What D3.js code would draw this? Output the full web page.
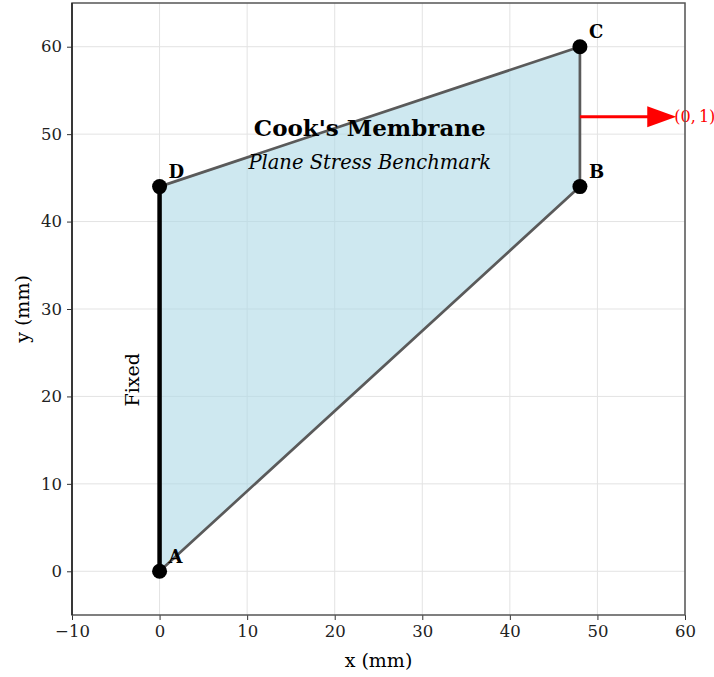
<!DOCTYPE html>
<html>
<head>
<meta charset="utf-8">
<script src="https://cdn.jsdelivr.net/npm/d3@7"></script>
<style>
  body { margin: 0; background: #fff; }
  svg { font-family: "DejaVu Serif", serif; }
  .tick text { font-size: 16.5px; fill: #222; }
</style>
</head>
<body>
<svg width="714" height="677"></svg>
<script>
// corner points of the membrane
var names = ["A", "B", "C", "D"];
var xs = [0, 48, 48, 0];
var ys = [0, 44, 60, 44];

var xTicks = [-10, 0, 10, 20, 30, 40, 50, 60];
var yTicks = [0, 10, 20, 30, 40, 50, 60];

// load arrow on right edge
var loadFrom = [48, 52],
    loadTo = [59, 52],
    loadLabel = "(0,\u20091)";

var svg = d3.select("svg"),
    marginLeft = 72,
    marginTop = 3,
    innerWidth = 685 - marginLeft,
    innerHeight = 615 - marginTop;

var x = d3.scaleLinear().domain([-10, 60]).range([0, innerWidth]);
var y = d3.scaleLinear().domain([-5, 65]).range([innerHeight, 0]);

var g = svg.append("g")
    .attr("transform", "translate(" + marginLeft + "," + marginTop + ")");

// grid
g.append("g").selectAll("line")
    .data(xTicks)
    .enter().append("line")
    .attr("x1", d => x(d)).attr("x2", d => x(d))
    .attr("y1", 0).attr("y2", innerHeight)
    .attr("stroke", "#e3e3e3").attr("stroke-width", 1);
g.append("g").selectAll("line")
    .data(yTicks)
    .enter().append("line")
    .attr("y1", d => y(d)).attr("y2", d => y(d))
    .attr("x1", 0).attr("x2", innerWidth)
    .attr("stroke", "#e3e3e3").attr("stroke-width", 1);

var pts = names.map((n, i) => ({ name: n, x: xs[i], y: ys[i] }));

// polygon
g.append("path")
    .attr("d", d3.line().x(d => x(d.x)).y(d => y(d.y))(pts) + "Z")
    .attr("fill", "#add8e6").attr("fill-opacity", 0.6)
    .attr("stroke", "#5a5a5a").attr("stroke-width", 2.7)
    .attr("stroke-linejoin", "round");

// fixed edge A-D
g.append("line")
    .attr("x1", x(pts[0].x)).attr("y1", y(pts[0].y))
    .attr("x2", x(pts[3].x)).attr("y2", y(pts[3].y))
    .attr("stroke", "#000").attr("stroke-width", 4.5);

g.append("text")
    .attr("transform", "translate(" + (x(-3.1)) + "," + y(21.9) + ") rotate(-90)")
    .attr("text-anchor", "middle")
    .attr("dominant-baseline", "central")
    .style("font-size", "19px")
    .text("Fixed");

// load arrow
var shaftEnd = x(loadTo[0]) - 26;
g.append("line")
    .attr("x1", x(loadFrom[0])).attr("y1", y(loadFrom[1]))
    .attr("x2", shaftEnd).attr("y2", y(loadTo[1]))
    .attr("stroke", "red").attr("stroke-width", 3);
g.append("path")
    .attr("d", "M" + (shaftEnd - 3) + "," + (y(loadTo[1]) - 10.5) +
        "L" + x(loadTo[0]) + "," + y(loadTo[1]) +
        "L" + (shaftEnd - 3) + "," + (y(loadTo[1]) + 10.5) + "Z")
    .attr("fill", "red");
g.append("text")
    .attr("x", x(loadTo[0]) - 2).attr("y", y(loadTo[1]))
    .attr("dominant-baseline", "central")
    .attr("fill", "red")
    .style("font-size", "16px")
    .text(loadLabel);

// corner points
g.selectAll(".pt")
    .data(pts)
    .enter().append("circle")
    .attr("class", "pt")
    .attr("cx", d => x(d.x)).attr("cy", d => y(d.y))
    .attr("r", 7.5).attr("fill", "#000");
g.selectAll(".lbl")
    .data(pts)
    .enter().append("text")
    .attr("class", "lbl")
    .attr("x", d => x(d.x) + 9).attr("y", d => y(d.y) - 15)
    .attr("dominant-baseline", "central")
    .style("font-size", "18px").style("font-weight", "bold")
    .text(d => d.name);

// titles
g.append("text")
    .attr("x", x(24)).attr("y", y(50.8))
    .attr("text-anchor", "middle").attr("dominant-baseline", "central")
    .style("font-size", "23px").style("font-weight", "bold")
    .text("Cook's Membrane");
g.append("text")
    .attr("x", x(24)).attr("y", y(46.8))
    .attr("text-anchor", "middle").attr("dominant-baseline", "central")
    .style("font-size", "19.5px").style("font-style", "italic")
    .text("Plane Stress Benchmark");

// axes
var fmt = d => d < 0 ? "\u2212" + Math.abs(d) : d;
var gx = g.append("g")
    .attr("transform", "translate(0," + innerHeight + ")")
    .call(d3.axisBottom(x).tickValues(xTicks).tickFormat(fmt).tickSizeOuter(0).tickSize(5).tickPadding(5));
var gy = g.append("g")
    .call(d3.axisLeft(y).tickValues(yTicks).tickFormat(fmt).tickSizeOuter(0).tickSize(5).tickPadding(5));
[gx, gy].forEach(a => {
    a.select(".domain").remove();
    a.selectAll(".tick line").attr("stroke", "#333");
    a.selectAll(".tick text").attr("font-family", "DejaVu Serif");
});

// spines
g.append("rect")
    .attr("width", innerWidth).attr("height", innerHeight)
    .attr("fill", "none").attr("stroke", "#555").attr("stroke-width", 1.5);
g.append("line")
    .attr("x1", 0).attr("x2", 0).attr("y1", 0).attr("y2", innerHeight)
    .attr("stroke", "#222").attr("stroke-width", 1.5);

svg.append("text")
    .attr("x", marginLeft + innerWidth / 2).attr("y", 667)
    .attr("text-anchor", "middle")
    .style("font-size", "19px")
    .text("x (mm)");
svg.append("text")
    .attr("transform", "translate(22," + (marginTop + innerHeight / 2) + ") rotate(-90)")
    .attr("text-anchor", "middle")
    .attr("dominant-baseline", "central")
    .style("font-size", "19px")
    .text("y (mm)");
</script>
</body>
</html>
